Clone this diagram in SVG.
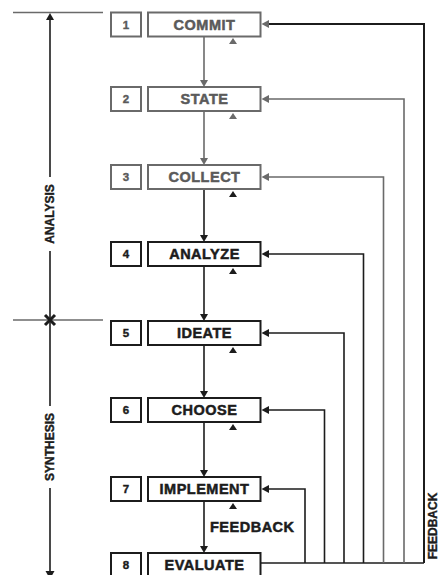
<svg xmlns="http://www.w3.org/2000/svg" width="438" height="575" viewBox="0 0 438 575">
<defs>
<style>
.box{fill:#fff;stroke:#1c1c1c;stroke-width:2}
.g .box{stroke:#6a6a6a}
.num{font-family:"Liberation Sans",Arial,sans-serif;font-weight:bold;font-size:11.5px;fill:#1c1c1c;stroke:#1c1c1c;stroke-width:0.4;text-anchor:middle}
.name{font-family:"Liberation Sans",Arial,sans-serif;font-weight:bold;font-size:14.5px;letter-spacing:0.5px;fill:#1c1c1c;stroke:#1c1c1c;stroke-width:0.5;text-anchor:middle}
.g .num,.g .name{fill:#5a5a5a;stroke:#5a5a5a}
.lbl{font-family:"Liberation Sans",Arial,sans-serif;font-weight:bold;font-size:12px;fill:#1c1c1c;stroke:#1c1c1c;stroke-width:0.4;text-anchor:middle;dominant-baseline:central}
.fb{font-family:"Liberation Sans",Arial,sans-serif;font-weight:bold;font-size:14.5px;letter-spacing:0.5px;fill:#1c1c1c;stroke:#1c1c1c;stroke-width:0.5}
.ln{fill:none;stroke:#1c1c1c;stroke-width:1.6}
.lg{fill:none;stroke:#6a6a6a;stroke-width:1.6}
.tri{fill:#1c1c1c}
.trig{fill:#6a6a6a}
</style>
</defs>

<g id="axis">
<line class="lg" x1="13" y1="12.5" x2="103" y2="12.5"/>
<line class="ln" x1="50" y1="18" x2="50" y2="177"/>
<polygon class="tri" points="50,13 46,20 54,20"/>
<text class="lbl" transform="translate(50,214) rotate(-90)">ANALYSIS</text>
<line class="ln" x1="50" y1="251" x2="50" y2="406"/>
<line class="lg" x1="13" y1="320" x2="103" y2="320"/>
<path d="M45,315 L55,325 M55,315 L45,325" stroke="#1c1c1c" stroke-width="3" fill="none"/>
<text class="lbl" transform="translate(50,447) rotate(-90)">SYNTHESIS</text>
<line class="ln" x1="50" y1="488" x2="50" y2="572"/>
<polygon class="tri" points="50,579 45.5,571 54.5,571"/>
</g>

<g id="connectors">
<line class="lg" x1="204" y1="36" x2="204" y2="81"/>
<polygon class="trig" points="204,87 200,80 208,80"/>
<line class="lg" x1="204" y1="111" x2="204" y2="159"/>
<polygon class="trig" points="204,165 200,158 208,158"/>
<line class="ln" x1="204" y1="189" x2="204" y2="236"/>
<polygon class="tri" points="204,242 200,235 208,235"/>
<line class="ln" x1="204" y1="266" x2="204" y2="315"/>
<polygon class="tri" points="204,321 200,314 208,314"/>
<line class="ln" x1="204" y1="345" x2="204" y2="392"/>
<polygon class="tri" points="204,398 200,391 208,391"/>
<line class="ln" x1="204" y1="422" x2="204" y2="471"/>
<polygon class="tri" points="204,477 200,470 208,470"/>
<line class="ln" x1="204" y1="501" x2="204" y2="547"/>
<polygon class="tri" points="204,553 200,546 208,546"/>

<polygon class="trig" points="233,38 229,44 237,44"/>
<polygon class="trig" points="233,113 229,119 237,119"/>
<polygon class="tri" points="233,191 229,197 237,197"/>
<polygon class="tri" points="233,268 229,274 237,274"/>
<polygon class="tri" points="233,347 229,353 237,353"/>
<polygon class="tri" points="233,424 229,430 237,430"/>
<polygon class="tri" points="233,503 229,509 237,509"/>

<line class="ln" x1="261" y1="563" x2="424" y2="563"/>
<polyline class="ln" points="424,563 424,24 268,24" style="stroke-width:2"/>
<polygon class="trig" points="261.5,24 269,20 269,28"/>
<polyline class="lg" points="404,563 404,99 268,99"/>
<polygon class="trig" points="261.5,99 269,95 269,103"/>
<polyline class="lg" points="383.5,563 383.5,177 268,177"/>
<polygon class="trig" points="261.5,177 269,173 269,181"/>
<polyline class="ln" points="363.5,563 363.5,254 268,254"/>
<polygon class="tri" points="261.5,254 269,250 269,258"/>
<polyline class="ln" points="344,563 344,333 268,333"/>
<polygon class="tri" points="261.5,333 269,329 269,337"/>
<polyline class="ln" points="324.5,563 324.5,410 268,410"/>
<polygon class="tri" points="261.5,410 269,406 269,414"/>
<polyline class="ln" points="305,563 305,489 268,489"/>
<polygon class="tri" points="261.5,489 269,485 269,493"/>

<text class="fb" x="210" y="532">FEEDBACK</text>
<text class="lbl" transform="translate(432.5,526) rotate(-90)">FEEDBACK</text>
</g>

<g id="n1" class="g">
<rect class="box" x="111" y="12.5" width="30" height="24"/>
<rect class="box" x="148" y="12.5" width="112.5" height="24"/>
<text class="num" x="126" y="28.5">1</text>
<text class="name" x="204.5" y="29.5">COMMIT</text>
</g>
<g id="n2" class="g">
<rect class="box" x="111" y="87" width="30" height="24"/>
<rect class="box" x="148" y="87" width="112.5" height="24"/>
<text class="num" x="126" y="103">2</text>
<text class="name" x="204.5" y="104">STATE</text>
</g>
<g id="n3" class="g">
<rect class="box" x="111" y="165" width="30" height="24"/>
<rect class="box" x="148" y="165" width="112.5" height="24"/>
<text class="num" x="126" y="181">3</text>
<text class="name" x="204.5" y="182">COLLECT</text>
</g>
<g id="n4">
<rect class="box" x="111" y="242" width="30" height="24"/>
<rect class="box" x="148" y="242" width="112.5" height="24"/>
<text class="num" x="126" y="258">4</text>
<text class="name" x="204.5" y="259">ANALYZE</text>
</g>
<g id="n5">
<rect class="box" x="111" y="321" width="30" height="24"/>
<rect class="box" x="148" y="321" width="112.5" height="24"/>
<text class="num" x="126" y="337">5</text>
<text class="name" x="204.5" y="338">IDEATE</text>
</g>
<g id="n6">
<rect class="box" x="111" y="398" width="30" height="24"/>
<rect class="box" x="148" y="398" width="112.5" height="24"/>
<text class="num" x="126" y="414">6</text>
<text class="name" x="204.5" y="415">CHOOSE</text>
</g>
<g id="n7">
<rect class="box" x="111" y="477" width="30" height="24"/>
<rect class="box" x="148" y="477" width="112.5" height="24"/>
<text class="num" x="126" y="493">7</text>
<text class="name" x="204.5" y="494">IMPLEMENT</text>
</g>
<g id="n8">
<rect class="box" x="111" y="553" width="30" height="24"/>
<rect class="box" x="148" y="553" width="112.5" height="24"/>
<text class="num" x="126" y="569">8</text>
<text class="name" x="204.5" y="570">EVALUATE</text>
</g>
</svg>
